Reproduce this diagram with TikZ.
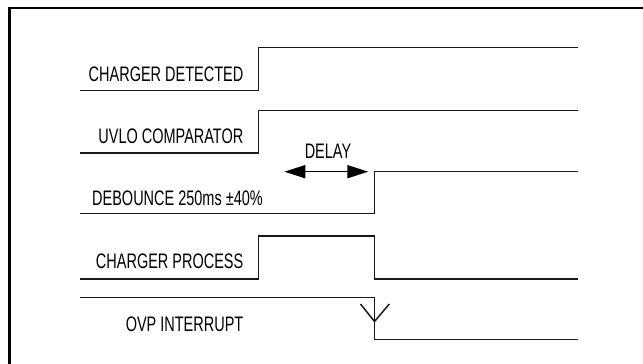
\documentclass[tikz,border=0pt]{standalone}
\usepackage{fontspec}
\setmainfont[FakeStretch=0.69]{Liberation Sans}
\usetikzlibrary{arrows.meta}
\tikzset{
  sig/.style={line width=1.5pt, line join=miter, black!90},
  frameline/.style={line width=2.2pt, black},
  lbl/.style={inner sep=0pt, font=\fontsize{21}{24}\selectfont},
  delayarrow/.style={line width=1.5pt, {Triangle[length=21pt,width=13pt]}-{Triangle[length=21pt,width=13pt]}}
}
\begin{document}
\begin{tikzpicture}[x=1pt,y=-1pt]
\useasboundingbox (0,0) rectangle (643,364);
% frame (top and left only)
\coordinate (fbl) at (9.5,364);
\coordinate (ftl) at (9.5,8.3);
\coordinate (ftr) at (643,8.3);
\draw[frameline] (fbl) -- (ftl) -- (ftr);

% CHARGER DETECTED
\coordinate (cd0) at (80,90.5);
\coordinate (cd1) at (258.5,90.5);
\coordinate (cd2) at (258.5,47.5);
\coordinate (cd3) at (578,47.5);
\draw[sig] (cd0) -- (cd1) -- (cd2) -- (cd3);
\node[lbl, anchor=base east] (lcd) at (243.5,81.5) {CHARGER DETECTED};

% UVLO COMPARATOR
\coordinate (uv0) at (80,153);
\coordinate (uv1) at (258.5,153);
\coordinate (uv2) at (258.5,110.5);
\coordinate (uv3) at (578,110.5);
\draw[sig] (uv0) -- (uv1) -- (uv2) -- (uv3);
\node[lbl, anchor=base east] (luv) at (243.5,143.5) {UVLO COMPARATOR};

% DEBOUNCE
\coordinate (db0) at (80,213.3);
\coordinate (db1) at (374.5,213.3);
\coordinate (db2) at (374.5,171.5);
\coordinate (db3) at (578,171.5);
\draw[sig] (db0) -- (db1) -- (db2) -- (db3);
\node[lbl, anchor=base west] (ldb) at (92,205) {DEBOUNCE 250ms ±40\%};

% DELAY arrow
\coordinate (da) at (284.3,171.7);
\coordinate (db) at (368.3,171.7);
\draw[delayarrow] (da) -- (db);
\node[lbl, anchor=base] (ldelay) at (328,158.3) {DELAY};

% CHARGER PROCESS
\coordinate (cp0) at (80,279);
\coordinate (cp1) at (258.5,279);
\coordinate (cp2) at (258.5,236);
\coordinate (cp3) at (374.5,236);
\coordinate (cp4) at (374.5,279);
\coordinate (cp5) at (578,279);
\draw[sig] (cp0) -- (cp1) -- (cp2) -- (cp3) -- (cp4) -- (cp5);
\node[lbl, anchor=base east] (lcp) at (243.5,268.3) {CHARGER PROCESS};

% OVP INTERRUPT
\coordinate (ov0) at (80,297.7);
\coordinate (ov1) at (374.5,297.7);
\coordinate (ov2) at (374.5,339.3);
\coordinate (ov3) at (578,339.3);
\draw[sig] (ov0) -- (ov1) -- (ov2) -- (ov3);
\coordinate (va) at (360.5,304);
\coordinate (vv) at (374.5,321.5);
\coordinate (vb) at (389.3,304);
\draw[sig] (va) -- (vv) -- (vb);
\node[lbl, anchor=base east] (lov) at (243.5,331) {OVP INTERRUPT};
\end{tikzpicture}
\end{document}
